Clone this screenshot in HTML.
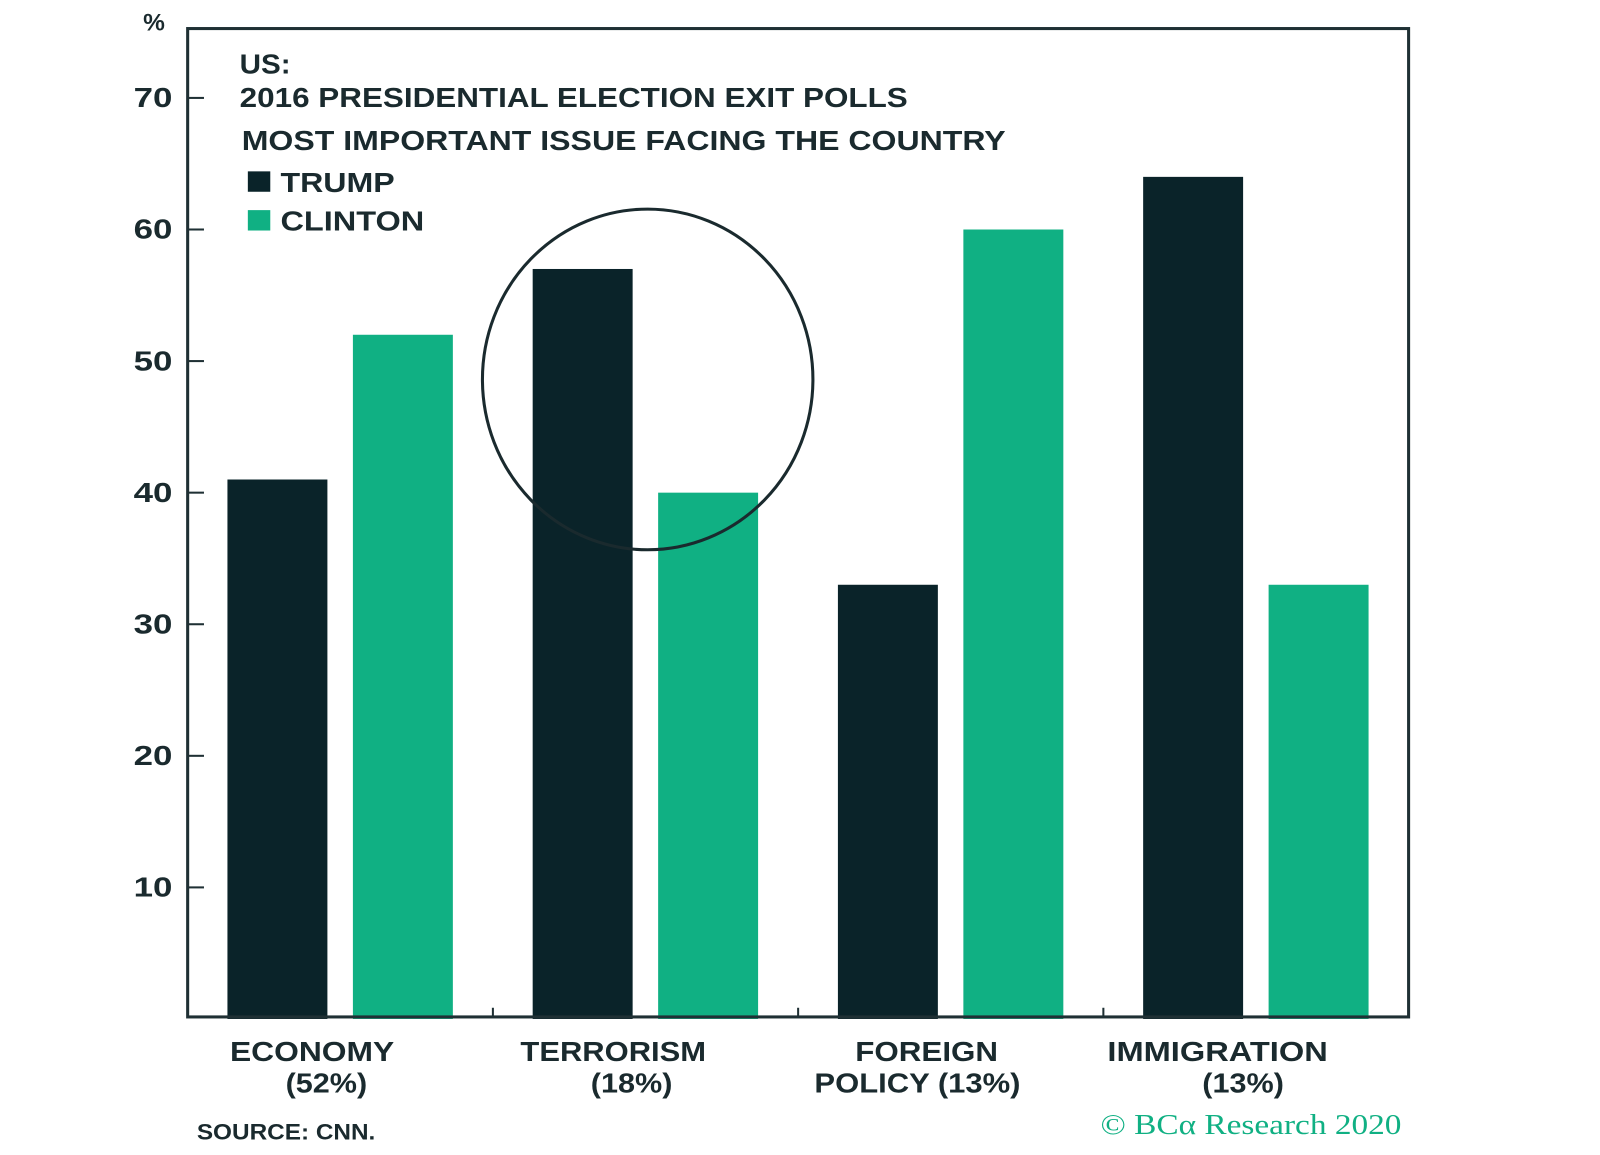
<!DOCTYPE html>
<html><head><meta charset="utf-8"><style>
body{margin:0;background:#fff;}
svg text{font-family:"Liberation Sans",sans-serif;font-weight:bold;fill:#1a2a2e;}
</style></head><body>
<svg id="chart" width="1600" height="1150" viewBox="0 0 1600 1150" xmlns="http://www.w3.org/2000/svg">
<g transform="translate(1,0) scale(1.02)">
<g id="bars"></g>
<g id="axes"></g>
<rect x="183" y="28" width="1197" height="969" fill="none" stroke="#1f3034" stroke-width="3"/>
<text x="150" y="30" font-size="24" text-anchor="middle">%</text>
<text x="234" y="72" font-size="27" textLength="50" lengthAdjust="spacingAndGlyphs">US:</text>
<text x="234" y="105" font-size="27" textLength="655" lengthAdjust="spacingAndGlyphs">2016 PRESIDENTIAL ELECTION EXIT POLLS</text>
<text x="236" y="147" font-size="27" textLength="749" lengthAdjust="spacingAndGlyphs">MOST IMPORTANT ISSUE FACING THE COUNTRY</text>
<rect x="242" y="168" width="22" height="20" fill="#0a2329"/>
<text x="274" y="188" font-size="27" textLength="112" lengthAdjust="spacingAndGlyphs">TRUMP</text>
<rect x="242" y="206" width="22" height="20" fill="#10b083"/>
<text x="274" y="226" font-size="27" textLength="141" lengthAdjust="spacingAndGlyphs">CLINTON</text>
<ellipse cx="634" cy="372" rx="162" ry="167" fill="none" stroke="#1a2a2e" stroke-width="3"/>
<text x="192" y="1117" font-size="22" textLength="175" lengthAdjust="spacingAndGlyphs">SOURCE: CNN.</text>
<text x="1078" y="1112" font-size="28" textLength="295" lengthAdjust="spacingAndGlyphs" style="font-family:'Liberation Serif',serif;font-weight:normal;fill:#10b083">© BCα Research 2020</text>
</g>
</svg>
<script>
const categories=["ECONOMY|(52%)","TERRORISM|(18%)","FOREIGN|POLICY (13%)","IMMIGRATION|(13%)"];
const trump=[41,57,33,64];
const clinton=[52,40,60,33];
const yTicks=[10,20,30,40,50,60,70];
const NS="http://www.w3.org/2000/svg";
const x0=183,x1=1380,y0=999,pxPer=12.9;
const groupW=(x1-x0)/categories.length;
const labelOff=[[-28,-14],[-32,-14],[-24,-33],[-38,-13]];
const labelLen=[[161,80],[182,80],[140,202],[216,80]];
function y(v){return y0-v*pxPer;}
function gx(i){return x0+i*groupW;}
const bars=document.getElementById('bars'),axes=document.getElementById('axes');
function mk(tag,attrs,parent){const e=document.createElementNS(NS,tag);for(const k in attrs)e.setAttribute(k,attrs[k]);parent.appendChild(e);return e;}
categories.forEach((c,i)=>{
  const b1=mk('rect',{x:gx(i)+39,y:y(trump[i]),width:98,height:y0-y(trump[i]),fill:'#0a2329'},bars);
  
  
  const b2=mk('rect',{x:gx(i)+162,y:y(clinton[i]),width:98,height:y0-y(clinton[i]),fill:'#10b083'},bars);
  
  
  const parts=c.split('|');
  const cx=gx(i)+150;
  parts.forEach((p,j)=>{
    const t=mk('text',{x:cx+labelOff[i][j],y:1040+j*31,'font-size':27,'text-anchor':'middle',textLength:labelLen[i][j],lengthAdjust:'spacingAndGlyphs'},axes);
    t.textContent=p;
    
    
  });
  if(i>0){const tk=mk('line',{x1:gx(i),x2:gx(i),y1:988,y2:997,stroke:'#1f3034','stroke-width':2},axes);
    
    }
});
yTicks.forEach(v=>{
  const tk=mk('line',{x1:184,x2:199,y1:y(v),y2:y(v),stroke:'#1f3034','stroke-width':2},axes);
  
  
  const t=mk('text',{x:168,y:y(v)+9,'font-size':27,'text-anchor':'end',textLength:38,lengthAdjust:'spacingAndGlyphs'},axes);
  t.textContent=v;
  
  
});
</script>
</body></html>
